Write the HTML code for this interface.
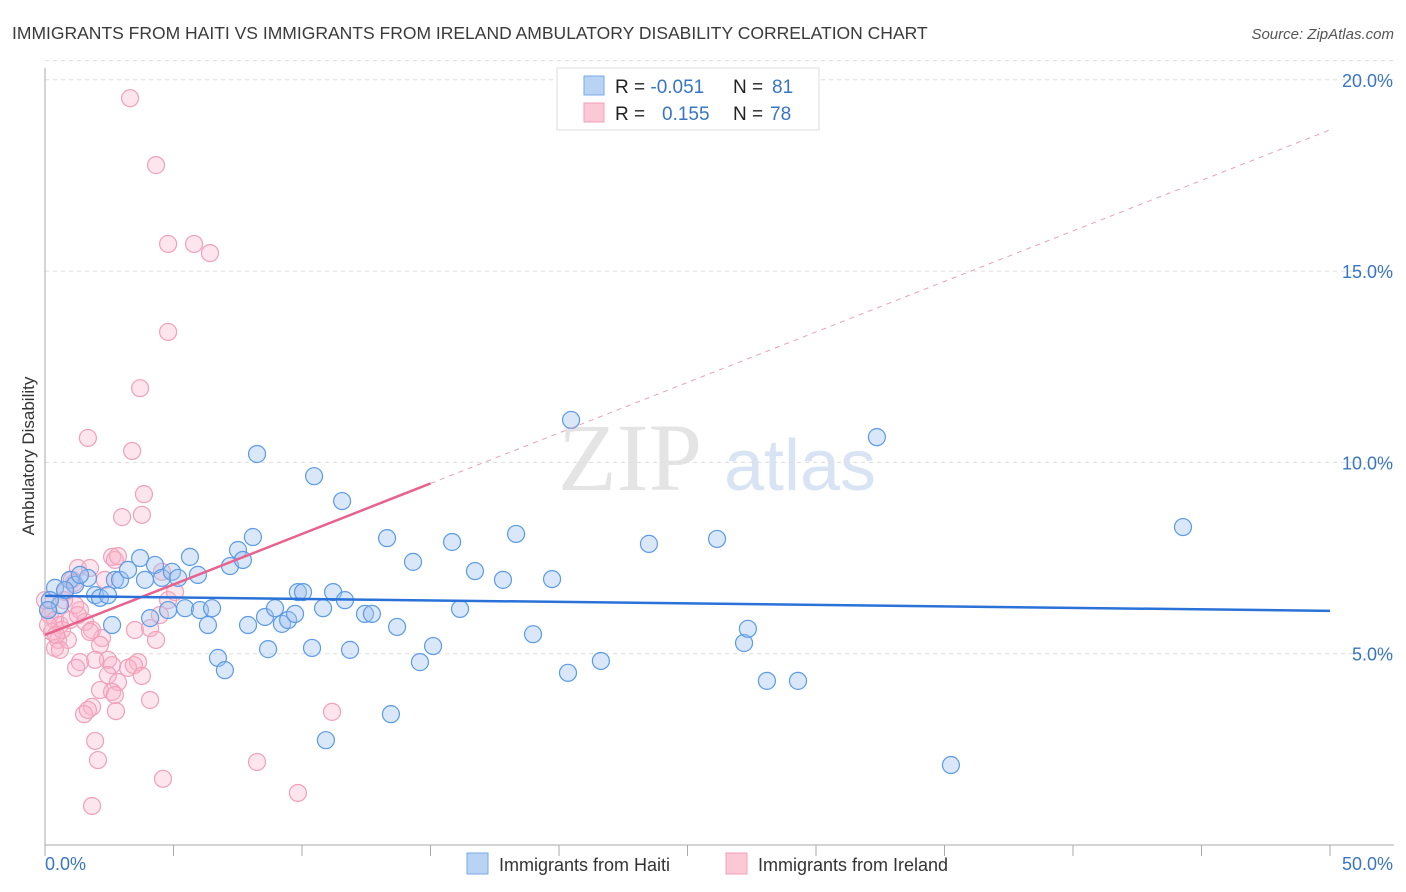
<!DOCTYPE html>
<html><head><meta charset="utf-8"><style>
body{margin:0;background:#fff;font-family:"Liberation Sans",sans-serif;}
svg{display:block}
</style></head><body>
<svg id="chart" width="1406" height="892" xmlns="http://www.w3.org/2000/svg">
<text x="12" y="39" font-size="17.5" fill="#3a3a3a">IMMIGRANTS FROM HAITI VS IMMIGRANTS FROM IRELAND AMBULATORY DISABILITY CORRELATION CHART</text>
<text x="1394" y="39" font-size="15" fill="#555" font-style="italic" text-anchor="end">Source: ZipAtlas.com</text>
<g>
<text x="630" y="490" font-size="96" fill="#e4e4e4" font-family="Liberation Serif,serif" text-anchor="middle">ZIP</text>
<text x="800" y="490" font-size="72" fill="#d8e4f4" text-anchor="middle">atlas</text>
</g>
<g id="grid"></g>
<g id="axes"></g>
<g id="pts"></g>
<g id="lines"></g>
<text transform="translate(34,456) rotate(-90)" font-size="17" fill="#333" text-anchor="middle">Ambulatory Disability</text>
<g>
<rect x="557" y="68" width="262" height="62" fill="#fff" stroke="#ddd"/>
<rect x="584" y="76" width="20" height="19" fill="#b9d3f5" stroke="#7aaae8"/>
<rect x="584" y="103" width="20" height="19" fill="#fbc8d6" stroke="#f0a0b8"/>
<text x="615" y="93" font-size="19" fill="#222">R = <tspan fill="#3a75c4">-0.051</tspan><tspan x="733">N = </tspan><tspan fill="#3a75c4" x="772">81</tspan></text>
<text x="615" y="120" font-size="19" fill="#222">R = <tspan fill="#3a75c4" x="662">0.155</tspan><tspan x="733">N = </tspan><tspan fill="#3a75c4" x="770">78</tspan></text>
</g>
<g>
<rect x="467" y="853" width="21" height="21" fill="#b9d3f5" stroke="#7aaae8"/>
<text x="499" y="871" font-size="18" fill="#333">Immigrants from Haiti</text>
<rect x="726" y="853" width="21" height="21" fill="#fbc8d6" stroke="#f0a0b8"/>
<text x="758" y="871" font-size="18" fill="#333">Immigrants from Ireland</text>
</g>
</svg>
<script>
const yTicks=[5,10,15,20];
const yTickLabels=["5.0%","10.0%","15.0%","20.0%"];
const xTicks=[0,5,10,15,20,25,30,35,40,45,50];
const haitiX=[0.39,0.58,0.97,1.17,1.67,1.95,2.14,2.45,2.72,2.92,3.23,2.61,3.70,3.89,4.09,4.28,4.55,4.79,4.94,5.18,5.45,5.64,5.95,6.03,6.34,6.50,6.73,7.00,7.20,7.51,7.70,7.90,8.09,8.25,8.68,8.56,8.95,9.22,9.46,9.73,9.84,10.04,10.39,10.47,10.82,10.93,11.21,11.56,11.67,11.87,12.45,12.72,13.31,13.46,13.70,14.32,14.59,15.10,15.84,16.15,16.73,17.82,18.33,18.99,19.73,20.35,20.47,21.63,23.50,26.15,27.20,27.35,28.09,29.30,32.37,35.25,44.28,0.19,0.12,0.78,1.36];
const haitiY=[6.72,6.27,6.93,6.80,6.98,6.53,6.46,6.53,6.93,6.93,7.19,5.75,7.50,6.93,5.93,7.32,6.98,6.14,7.14,6.98,6.19,7.53,7.06,6.14,5.75,6.19,4.89,4.57,7.29,7.71,7.45,5.75,8.05,10.22,5.12,5.96,6.19,5.78,5.88,6.04,6.61,6.61,5.15,9.64,6.19,2.74,6.61,8.99,6.40,5.10,6.04,6.04,8.02,3.42,5.70,7.40,4.78,5.20,7.92,6.17,7.16,6.93,8.13,5.51,6.95,4.50,11.11,4.81,7.87,8.00,5.28,5.65,4.29,4.29,10.66,2.09,8.31,6.40,6.14,6.66,7.06];
const irelandX=[3.31,4.32,4.79,5.80,6.42,4.79,3.70,1.67,3.39,3.85,3.77,3.00,2.61,2.72,2.84,1.28,1.75,1.05,1.13,2.33,0.78,0.12,0.19,0.39,0.58,0.27,0.51,0.39,0.89,0.66,0.97,1.36,1.56,1.83,2.22,2.14,2.45,1.95,1.36,1.21,1.75,1.17,1.28,0.74,3.50,4.09,4.47,4.79,5.06,4.55,4.32,3.62,3.23,3.46,2.61,2.45,2.84,3.77,2.14,2.61,2.72,4.09,1.83,1.52,1.67,2.76,1.95,2.06,1.83,4.59,8.25,9.84,11.17,0.58,0.00,0.12,0.43];
const irelandY=[19.52,17.77,15.71,15.71,15.47,13.41,11.94,10.64,10.30,9.17,8.63,8.57,7.53,7.45,7.55,7.24,7.24,6.93,6.85,6.93,6.61,6.14,6.01,5.88,5.75,5.57,5.36,5.15,5.36,5.62,5.88,6.14,5.83,5.62,5.41,5.23,4.84,4.84,4.78,4.63,5.57,6.27,6.01,6.40,5.62,5.67,6.01,6.40,6.61,7.14,5.36,4.78,4.63,4.70,4.70,4.44,4.26,4.42,4.05,4.00,3.92,3.79,3.61,3.42,3.53,3.50,2.72,2.22,1.02,1.73,2.17,1.36,3.48,5.10,6.40,5.75,5.49];
const haitiTrend=[6.51,6.12];
const irelandTrend=[5.49,18.69];
const irelandSolidEnd=15;

const NS="http://www.w3.org/2000/svg";
const X=v=>45+v*(1285/50);
const Y=v=>845-v*(765.2/20);
function mk(tag,attrs,parent){const e=document.createElementNS(NS,tag);for(const k in attrs)e.setAttribute(k,attrs[k]);parent.appendChild(e);return e;}
const grid=document.getElementById('grid'),axes=document.getElementById('axes'),pts=document.getElementById('pts'),lines=document.getElementById('lines');
yTicks.forEach((t,i)=>{
 const l=mk('line',{x1:45,x2:1394,y1:Y(t),y2:Y(t),stroke:'#ddd','stroke-dasharray':'4,4'},grid);
 
 
 const tx=mk('text',{x:1393,y:Y(t)-12+19,'font-size':18,fill:'#3a75c4','text-anchor':'end'},axes);
 tx.textContent=yTickLabels[i];
 
 
});
mk('line',{x1:45,x2:1394,y1:Y(20.5),y2:Y(20.5),stroke:'#ddd','stroke-dasharray':'4,4'},grid);
mk('line',{x1:45,x2:45,y1:68,y2:845,stroke:'#aaa'},axes);
mk('line',{x1:45,x2:1394,y1:845,y2:845,stroke:'#aaa'},axes);
xTicks.forEach(t=>{const l=mk('line',{x1:X(t),x2:X(t),y1:845,y2:856,stroke:'#aaa'},axes);
 
 });
const x0=mk('text',{x:45,y:870,'font-size':18,fill:'#3a75c4'},axes);x0.textContent='0.0%';


const x1=mk('text',{x:1393,y:870,'font-size':18,fill:'#3a75c4','text-anchor':'end'},axes);x1.textContent='50.0%';


irelandX.forEach((v,i)=>{const c=mk('circle',{cx:X(v),cy:Y(irelandY[i]),r:8.5,fill:'rgba(248,180,202,0.35)',stroke:'#f0a0b8','stroke-width':1.2},pts);
 
 });
haitiX.forEach((v,i)=>{const c=mk('circle',{cx:X(v),cy:Y(haitiY[i]),r:8.5,fill:'rgba(160,196,240,0.4)',stroke:'#5b9be6','stroke-width':1.2},pts);
 
 });
const pAt=x=>irelandTrend[0]+(irelandTrend[1]-irelandTrend[0])*x/50;
let l1=mk('line',{x1:X(irelandSolidEnd),y1:Y(pAt(irelandSolidEnd)),x2:X(50),y2:Y(pAt(50)),stroke:'#e8a0b8','stroke-dasharray':'5,5','stroke-width':1},lines);


let l2=mk('line',{x1:X(0),y1:Y(pAt(0)),x2:X(irelandSolidEnd),y2:Y(pAt(irelandSolidEnd)),stroke:'#e8628e','stroke-width':2.5},lines);


let l3=mk('line',{x1:X(0),y1:Y(haitiTrend[0]),x2:X(50),y2:Y(haitiTrend[1]),stroke:'#2a72d8','stroke-width':2.5},lines);


</script>
</body></html>
